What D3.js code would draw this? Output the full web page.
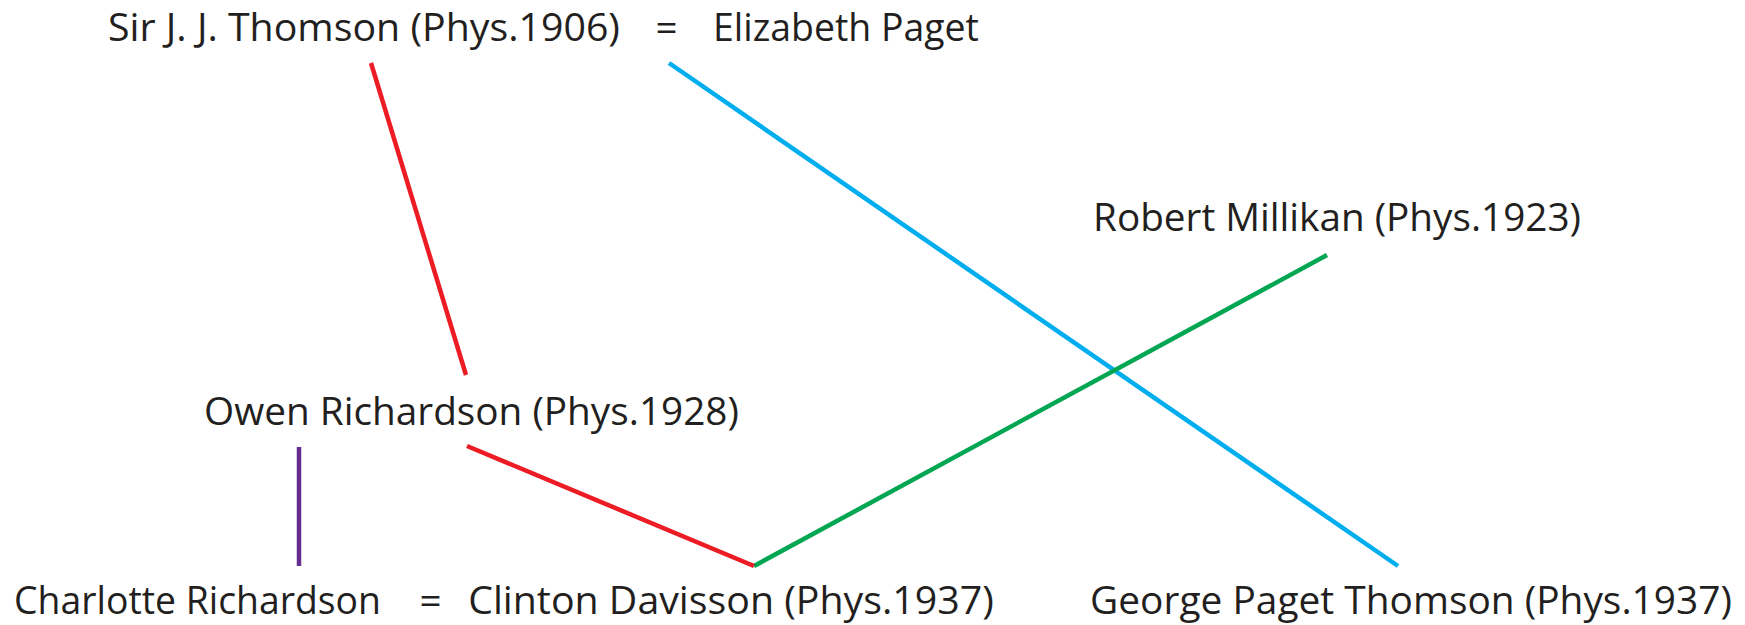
<!DOCTYPE html>
<html>
<head>
<meta charset="utf-8">
<script src="https://cdn.jsdelivr.net/npm/d3@7"></script>
<style>
  html, body { margin: 0; padding: 0; background: #fff; }
  svg { display: block; }
</style>
</head>
<body>
<div id="chart"></div>
<script>
// Dados do diagrama (coordenadas no espaço do desenho, 0-1745 x 0-625)
const labels = [
  "Sir J. J. Thomson (Phys.1906)", "=", "Elizabeth Paget",
  "Robert Millikan (Phys.1923)",
  "Owen Richardson (Phys.1928)",
  "Charlotte Richardson", "=", "Clinton Davisson (Phys.1937)",
  "George Paget Thomson (Phys.1937)"
];
const labelLeft  = [108, 655, 713, 1093, 204, 14, 419, 468, 1090];
const labelRight = [620, 678, 979, 1581, 739, 381, 442, 994, 1732];
const labelBase  = [41, 41, 41, 231, 425, 614, 614, 614, 614];

const linkNames = ["Thomson-Richardson", "Paget-GPThomson", "Millikan-Davisson", "Richardson-Davisson", "Richardson-Charlotte"];
const linkX1 = [371, 669, 754, 467, 299];
const linkY1 = [63, 63, 566, 446, 447];
const linkX2 = [466, 1398, 1327, 754, 299];
const linkY2 = [375, 566, 255, 566, 566];
const linkColors = ["#ED1C24", "#00AEEF", "#00A651", "#ED1C24", "#662D91"];

const width = 1745, height = 625;

const svg = d3.select("#chart").append("svg")
  .attr("width", width)
  .attr("height", height);

const x = d3.scaleLinear().domain([0, 1745]).range([0, width]);
const y = d3.scaleLinear().domain([0, 625]).range([0, height]);

// Linhas de ligação
svg.append("g")
  .selectAll("line")
  .data(linkNames)
  .join("line")
  .attr("x1", (d, i) => x(linkX1[i]))
  .attr("y1", (d, i) => y(linkY1[i]))
  .attr("x2", (d, i) => x(linkX2[i]))
  .attr("y2", (d, i) => y(linkY2[i]))
  .style("stroke", (d, i) => linkColors[i])
  .style("stroke-width", "4.5px");

// Textos (fonte mais estreita no original: comprime na horizontal)
const fontSize = 37.5;
const texts = svg.append("g")
  .selectAll("text")
  .data(labels)
  .join("text")
  .attr("text-anchor", "middle")
  .style("font-family", "'Open Sans', sans-serif")
  .style("font-size", fontSize + "px")
  .style("fill", "#231F20")
  .text(d => d);

// Fator de compressão por texto; o "=" usa a média
let ratios = [];
texts.each(function(d, i) {
  const w = this.getComputedTextLength();
  ratios[i] = d.length < 3 ? null : (x(labelRight[i]) - x(labelLeft[i])) / w;
});
const meanRatio = d3.mean(ratios.filter(r => r != null));

texts.attr("transform", (d, i) => {
  const cx = x((labelLeft[i] + labelRight[i]) / 2);
  const sx = ratios[i] == null ? meanRatio : ratios[i];
  return `translate(${cx},${y(labelBase[i])}) scale(${sx.toFixed(4)},1)`;
});
</script>
</body>
</html>
